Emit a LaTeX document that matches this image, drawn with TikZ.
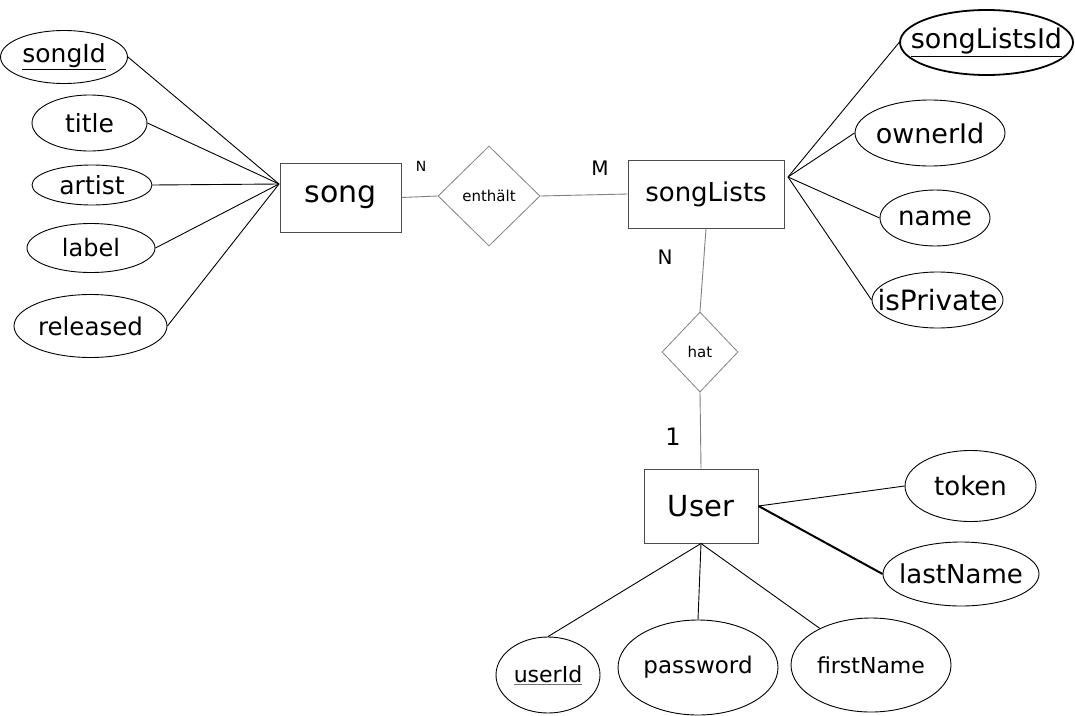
\documentclass[tikz,border=0pt]{standalone}
\usepackage{fontspec}
\setmainfont{DejaVu Sans}
\usetikzlibrary{shapes.geometric}

% text of an attribute, kept out of the ellipse size
\newcommand{\attxt}[1]{\hbox to 0pt{\hss#1\hss}}
\newcommand{\fs}[1]{\fontsize{#1}{#1}\selectfont}

\begin{document}
\begin{tikzpicture}[x=1pt, y=-1pt,
    entity/.style={draw=ent, rectangle, line width=1pt, inner sep=0pt},
    rel/.style={draw=rel, diamond, aspect=1, inner sep=0pt, line width=0.8pt, font=\fs{15}},
    attr/.style={draw, ellipse, inner sep=0pt, line width=0.9pt, font=\fs{25}},
    link/.style={line width=0.9pt},
    rlink/.style={draw=rel, line width=0.9pt},
    card/.style={inner sep=0pt}]
        % ----------- colours -----------
        \colorlet{ent}{black!70}
        \colorlet{rel}{black!50}
        \useasboundingbox (0,0) rectangle (1075,715);

        % =====================================
        %            entities and relations
        % =====================================
        \node[entity, minimum width=121, minimum height=69, font=\fs{30}] (song) at (340.5,197.5) {song};
        \node[rel, minimum width=102, minimum height=100] (enth) at (489,196) {enthält};
        \node[entity, minimum width=156, minimum height=68, font=\fs{26}] (songLists) at (706,194) {songLists};
        \node[rel, minimum width=76, minimum height=80] (hat) at (700,352) {hat};
        \node[entity, minimum width=114, minimum height=74, font=\fs{29}] (User) at (701,506) {User};

        % cardinalities
        \node[card, font=\fs{14}] (cN1) at (421,166) {N};
        \node[card, font=\fs{20}] (cM) at (600,168) {M};
        \node[card, font=\fs{20}] (cN2) at (665,257) {N};
        \node[card, font=\fs{24}] (c1) at (673,437) {1};

        \draw[rlink] (song.east) -- (enth.west);
        \draw[rlink] (enth.east) -- (songLists.west);
        \draw[rlink] (songLists.south) -- (hat.north);
        \draw[rlink] (hat.south) -- (User.north);

        % =====================================
        %            attributes of song
        % =====================================
        \coordinate (songL) at (279,184);
        \node[attr, minimum width=127, minimum height=53] (songId) at (64,57) {\attxt{\underline{songId}}};
        \node[attr, minimum width=115, minimum height=56] (title) at (89.5,123) {\attxt{title}};
        \node[attr, minimum width=120, minimum height=40] (artist) at (92,185) {\attxt{artist}};
        \node[attr, minimum width=128, minimum height=49, font=\fs{24}] (label) at (91,248) {\attxt{label}};
        \node[attr, minimum width=153, minimum height=63, font=\fs{24.5}] (released) at (90.5,326) {\attxt{released}};
        \foreach \a in {songId, title, artist, label, released}
            \draw[link] (\a.east) -- (songL);

        % =====================================
        %            attributes of songLists
        % =====================================
        \coordinate (slR) at (788,177);
        \node[attr, line width=1.8pt, minimum width=173, minimum height=65, font=\fs{27}] (songListsId) at (986.5,42.5) {\attxt{\underline{songListsId}}};
        \node[attr, minimum width=150, minimum height=66, font=\fs{27}] (ownerId) at (930,133) {\attxt{ownerId}};
        \node[attr, minimum width=110, minimum height=56, font=\fs{26}] (name) at (935,218) {\attxt{name}};
        \node[attr, minimum width=131, minimum height=56, font=\fs{28}] (isPrivate) at (937.5,300) {\attxt{isPrivate}};
        \foreach \a in {songListsId, ownerId, name, isPrivate}
            \draw[link] (slR) -- (\a.west);

        % =====================================
        %            attributes of User
        % =====================================
        \node[attr, minimum width=131, minimum height=71, font=\fs{26}] (token) at (970.5,486) {\attxt{token}};
        \node[attr, minimum width=156, minimum height=64, font=\fs{26}] (lastName) at (961,574) {\attxt{lastName}};
        \node[attr, minimum width=104, minimum height=76, font=\fs{22}] (userId) at (548,675) {\attxt{\color{black!55}\underline{\color{black}userId}}};
        \node[attr, minimum width=160, minimum height=95, font=\fs{23}] (password) at (698,667.5) {\attxt{password}};
        \node[attr, minimum width=160, minimum height=94, font=\fs{22}] (firstName) at (871,665) {\attxt{firstName}};

        \draw[link] (User.east) -- (token.west);
        \draw[link, line width=2pt] (User.east) -- (lastName.west);
        \draw[link] (User.south) -- (userId.north);
        \draw[link] (User.south) -- (password.north);
        \draw[link] (User.south) -- (firstName);

\end{tikzpicture}
\end{document}
